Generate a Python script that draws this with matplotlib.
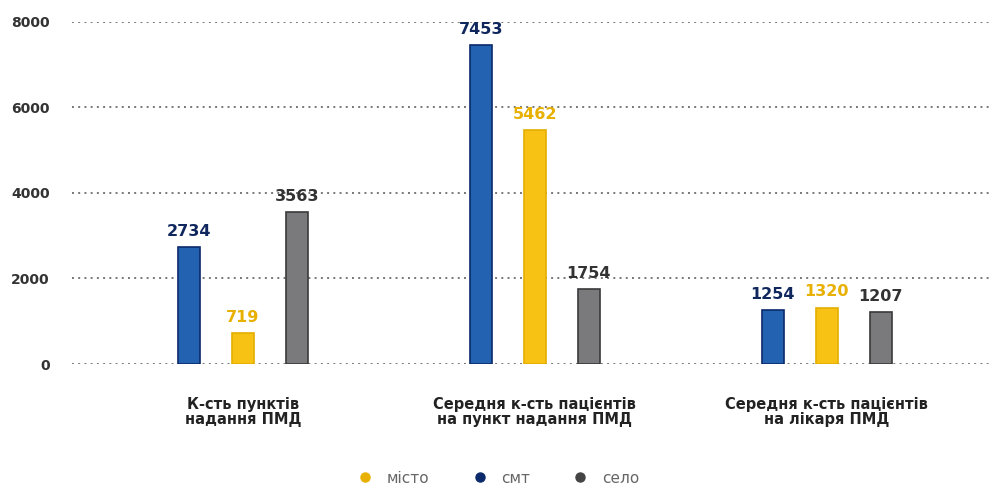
import numpy as np
import matplotlib.pyplot as plt
from matplotlib.lines import Line2D

plt.rcParams['font.family'] = ['DejaVu Sans']

categories = ['К-сть пунктів\nнадання ПМД',
              'Середня к-сть пацієнтів\nна пункт надання ПМД',
              'Середня к-сть пацієнтів\nна лікаря ПМД']
smt = [2734, 7453, 1254]
misto = [719, 5462, 1320]
selo = [3563, 1754, 1207]

series = [('смт', smt, '#2262B0', '#0B2A6B', '#10275E'),
          ('місто', misto, '#F7C213', '#E4AE00', '#E8B000'),
          ('село', selo, '#7A7A7C', '#3A3A3A', '#333333')]

fig = plt.figure(figsize=(9.95, 4.86), dpi=100)
ax = fig.add_axes([0.0724, 0.251, 0.9226, 0.704])

x = np.arange(len(categories))
offsets = [-0.185, 0.0, 0.185]
w = 0.075
for (name, vals, fc, ec, tc), off in zip(series, offsets):
    ax.bar(x + off, vals, width=w, color=fc, edgecolor=ec, linewidth=1.2, zorder=3)
    for xi, v in zip(x, vals):
        ax.text(xi + off, v + 190, str(v), ha='center', va='bottom',
                fontsize=11.5, fontweight='bold', color=tc, clip_on=False, zorder=4)

ax.set_xlim(-0.585, 2.56)
ax.set_ylim(0, 8000)
ax.set_yticks([0, 2000, 4000, 6000, 8000])
ax.set_yticklabels(['0', '2000', '4000', '6000', '8000'], fontsize=10,
                   fontweight='bold', color='#333333')
ax.tick_params(axis='y', length=0, pad=16)
ax.set_xticks([])
for s in ax.spines.values():
    s.set_visible(False)
ax.grid(axis='y', linestyle=(0, (1, 2.2)), color='#777777', linewidth=1.4, zorder=0)
ax.set_axisbelow(True)

for xi, c in zip(x, categories):
    ax.text(xi, -780, c, ha='center', va='top', fontsize=10.5, fontweight='bold',
            color='#222222', linespacing=1.0)

handles = [Line2D([], [], marker='o', linestyle='', markersize=6.5,
                  markerfacecolor=c, markeredgecolor=c)
           for c in ['#E8B000', '#0B2A6B', '#444444']]
fig.legend(handles, ['місто', 'смт', 'село'], loc='center', ncol=3,
           bbox_to_anchor=(0.497, 0.016), frameon=False, fontsize=11,
           labelcolor='#666666', columnspacing=2.3, handletextpad=0.4)

fig.savefig('out.png', dpi=100)
